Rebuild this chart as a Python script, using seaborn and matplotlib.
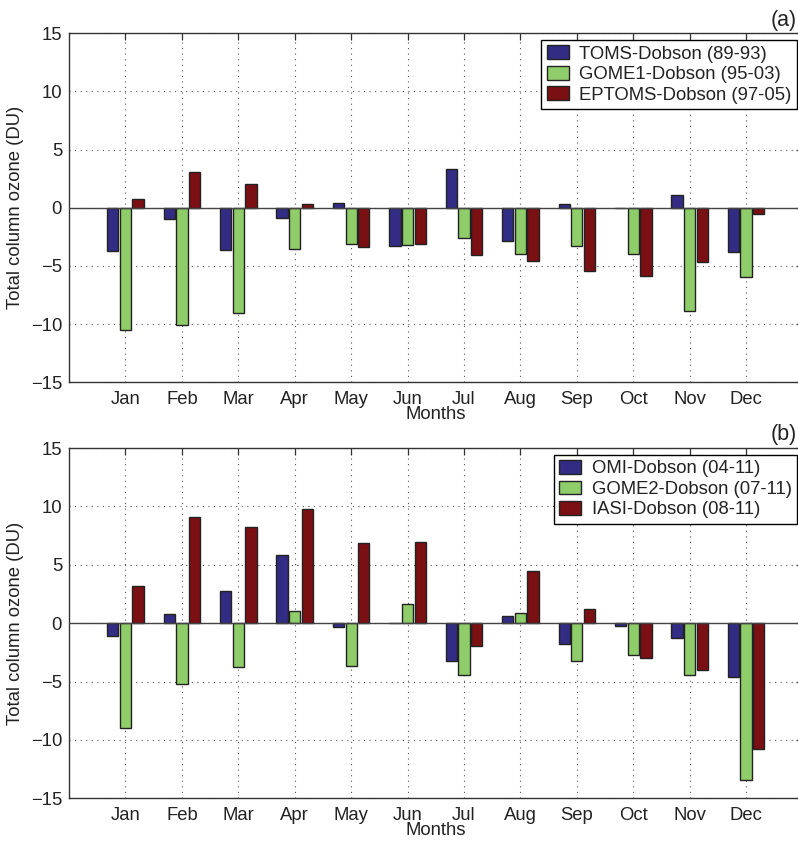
import matplotlib
matplotlib.use("Agg")
import matplotlib.pyplot as plt
import seaborn as sns
import pandas as pd
import numpy as np

months = ["Jan", "Feb", "Mar", "Apr", "May", "Jun", "Jul", "Aug", "Sep", "Oct", "Nov", "Dec"]

# Panel (a)
labels_a = ["TOMS-Dobson (89-93)", "GOME1-Dobson (95-03)", "EPTOMS-Dobson (97-05)"]
toms = [-3.70, -0.95, -3.61, -0.89, 0.40, -3.24, 3.32, -2.81, 0.29, 0.0, 1.06, -3.81]
gome1 = [-10.54, -10.11, -9.03, -3.52, -3.15, -3.18, -2.58, -3.95, -3.30, -3.95, -8.85, -5.96]
eptoms = [0.77, 3.12, 2.06, 0.34, -3.41, -3.15, -4.07, -4.61, -5.44, -5.85, -4.70, -0.57]

# Panel (b)
labels_b = ["OMI-Dobson (04-11)", "GOME2-Dobson (07-11)", "IASI-Dobson (08-11)"]
omi = [-1.09, 0.74, 2.74, 5.86, -0.37, 0.0, -3.25, 0.60, -1.81, -0.26, -1.24, -4.60]
gome2 = [-8.94, -5.20, -3.76, 1.00, -3.65, 1.63, -4.40, 0.91, -3.28, -2.70, -4.43, -13.45]
iasi = [3.14, 9.11, 8.23, 9.80, 6.86, 6.97, -1.95, 4.49, 1.23, -2.96, -4.05, -10.80]

colors = ["#332C84", "#8FCD6A", "#7A1014"]
yticks = [-15, -10, -5, 0, 5, 10, 15]

sns.set_style("white")
plt.rcParams["font.family"] = ["Liberation Sans", "DejaVu Sans"]
FS = 13.3

fig = plt.figure(figsize=(7.98, 8.41), dpi=100)
ax_a = fig.add_axes([0.0865, 0.5454, 0.9192, 0.415])
ax_b = fig.add_axes([0.0865, 0.0508, 0.9192, 0.4165])


def draw(ax, series, labels, tag):
    rows = []
    for lab, vals in zip(labels, series):
        for m, v in zip(months, vals):
            rows.append({"Month": m, "Series": lab, "Value": v})
    df = pd.DataFrame(rows)
    sns.barplot(data=df, x="Month", y="Value", hue="Series", order=months,
                hue_order=labels, palette=colors, width=0.675, gap=0.11,
                edgecolor="#222222", linewidth=1.0, saturation=1, legend=False,
                errorbar=None, ax=ax, zorder=3)
    ax.axhline(0, color="#444444", lw=1.0, zorder=4)
    ax.set_xlim(-1, 12)
    ax.set_ylim(-15, 15)
    ax.set_yticks(yticks)
    ax.set_xticks(range(12))
    ax.set_xticklabels(months)
    ax.grid(True, linestyle=(0, (1, 4)), color="#555555", lw=0.8, zorder=0)
    ax.set_axisbelow(True)
    ax.tick_params(direction="in", length=5, width=0.9, color="#333333",
                   top=True, right=True, labelsize=FS, labelcolor="#222222")
    ax.tick_params(axis="x", pad=6)
    ax.tick_params(axis="y", pad=5)
    for s in ax.spines.values():
        s.set_color("#333333")
        s.set_linewidth(1.0)
        s.set_visible(True)
    ax.set_xlabel("Months", fontsize=FS, labelpad=-1, color="#222222")
    ax.set_ylabel("Total column ozone (DU)", fontsize=FS, labelpad=5, color="#222222")
    leg = ax.legend(ax.containers, labels, loc="upper right",
                    bbox_to_anchor=(0.9925, 0.981), borderaxespad=0,
                    fancybox=False, frameon=True, edgecolor="black",
                    framealpha=1, fontsize=FS, handlelength=1.18,
                    handleheight=0.76, handletextpad=0.56, labelspacing=0.17,
                    borderpad=0.3)
    leg.get_frame().set_linewidth(1.0)
    for t in leg.get_texts():
        t.set_color("#222222")
    leg.set_zorder(10)
    ax.text(0.992, 1.008, tag, transform=ax.transAxes, ha="right", va="bottom",
            fontsize=15.5, color="#222222")


draw(ax_a, [toms, gome1, eptoms], labels_a, "(a)")
draw(ax_b, [omi, gome2, iasi], labels_b, "(b)")

fig.savefig("out.png", dpi=100)
